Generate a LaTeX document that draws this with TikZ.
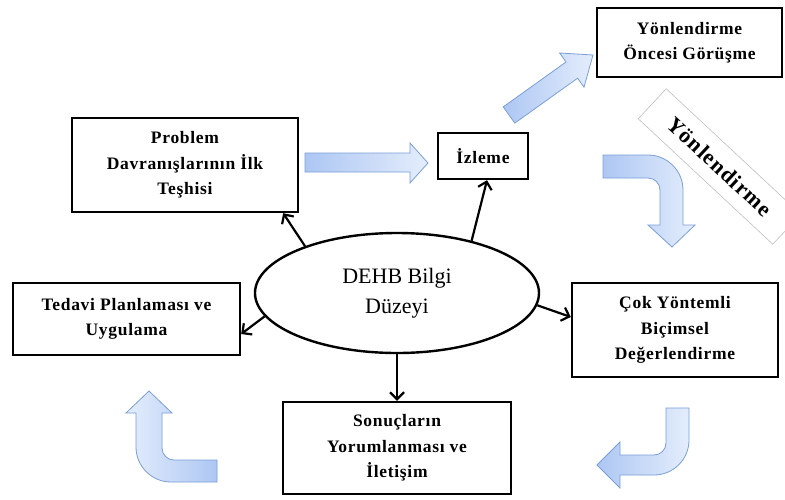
\documentclass[tikz,border=0pt]{standalone}
\usepackage{fontspec}
\setmainfont{Liberation Serif}
\newfontfamily\boxfam[LetterSpace=4]{Liberation Serif}
\newfontfamily\rotfam[LetterSpace=5]{Liberation Serif}
\usetikzlibrary{arrows.meta,shapes.geometric,calc}
\definecolor{bafillA}{HTML}{ADC7F3}
\definecolor{bafillB}{HTML}{E4EDFC}
\definecolor{baline}{HTML}{7B9FD6}
\tikzset{
  box/.style={draw=black, line width=2.4pt, fill=white, align=center, inner sep=2pt,
    font=\boxfam\bfseries\fontsize{17.5}{25.5}\selectfont},
  blockarrow/.style={draw=baline, line width=0.8pt, left color=bafillA, right color=bafillB},
  blockarrowrev/.style={draw=baline, line width=0.8pt, left color=bafillB, right color=bafillA},
  link/.style={line width=2.2pt, -{Straight Barb[length=7pt,width=14pt,line width=2.2pt]}},
}
\begin{document}
\begin{tikzpicture}[x=1pt,y=-1pt]
\useasboundingbox (0,0) rectangle (785,499);
\fill[white] (0,0) rectangle (785,499);

% block arrows
\path[blockarrow] (305,153) -- (410,153) -- (410,143) -- (428,163) -- (410,183) -- (410,172) -- (305,172) -- cycle;
\path[blockarrow] (514.8,123.1) -- (503.2,106.9) -- (566.0,62.0) -- (559.6,53.0) -- (593,55) -- (584.0,87.2) -- (577.6,78.2) -- cycle;
\path[blockarrow] (603,155) -- (648,155) .. controls (667.3,155) and (683,170.7) .. (683,190) -- (683,225) -- (695,225) -- (672,247) -- (648,225) -- (660,225) -- (660,190) .. controls (660,183.4) and (654.6,178) .. (648,178) -- (603,178) -- cycle;
\path[blockarrow] (666,408) -- (689,408) -- (689,440) .. controls (689,459.3) and (673.3,475) .. (654,475) -- (620,475) -- (620,488) -- (597,465) -- (620,442) -- (620,455) -- (654,455) .. controls (660.6,455) and (666,449.6) .. (666,443) -- cycle;
\path[blockarrowrev] (149,391) -- (172,413) -- (162,413) -- (162,448) .. controls (162,454.6) and (167.4,460) .. (174,460) -- (217,460) -- (217,482) -- (171,482) .. controls (151.7,482) and (136,466.3) .. (136,447) -- (136,413) -- (126,413) -- cycle;

% rotated label
\node[draw=black!25, line width=0.6pt, fill=white, rotate=-43, minimum width=184pt, minimum height=41pt, inner sep=0pt,
  font=\rotfam\bfseries\fontsize{22}{26}\selectfont] (yonl) at (719.5,166.5) {Yönlendirme};

% boxes
\node[box, minimum width=185pt, minimum height=69pt] (yon) at (689.5,42.5) {Yönlendirme\\Öncesi Görüşme};
\node[box, minimum width=226pt, minimum height=94pt] (prob) at (185,165) {Problem\\Davranışlarının İlk\\Teşhisi};
\node[box, minimum width=90pt, minimum height=46pt] (izl) at (483,156) {İzleme};
\node[box, minimum width=227pt, minimum height=72pt] (ted) at (126.5,319) {Tedavi Planlaması ve\\Uygulama};
\node[box, minimum width=206pt, minimum height=94pt] (cok) at (675,330) {Çok Yöntemli\\Biçimsel\\Değerlendirme};
\node[box, minimum width=228pt, minimum height=92pt] (son) at (397,448) {Sonuçların\\Yorumlanması ve\\İletişim};

% ellipse
\node[ellipse, draw=black, line width=2.4pt, fill=white, minimum width=284pt, minimum height=120pt, inner sep=0pt,
  align=center, font=\fontsize{22}{30}\selectfont] (ell) at (397,293) {DEHB Bilgi\\Düzeyi};

% links
\draw[link] (ell.153) -- ([xshift=-16pt]prob.south east);
\draw[link] (ell.35) -- ([xshift=4pt]izl.south);
\draw[link] (ell.190) -- ([yshift=-15pt]ted.east);
\draw[link] (ell.-5) -- ([yshift=13pt]cok.west);
\draw[link] (ell.south) -- (son.north);
\end{tikzpicture}
\end{document}
